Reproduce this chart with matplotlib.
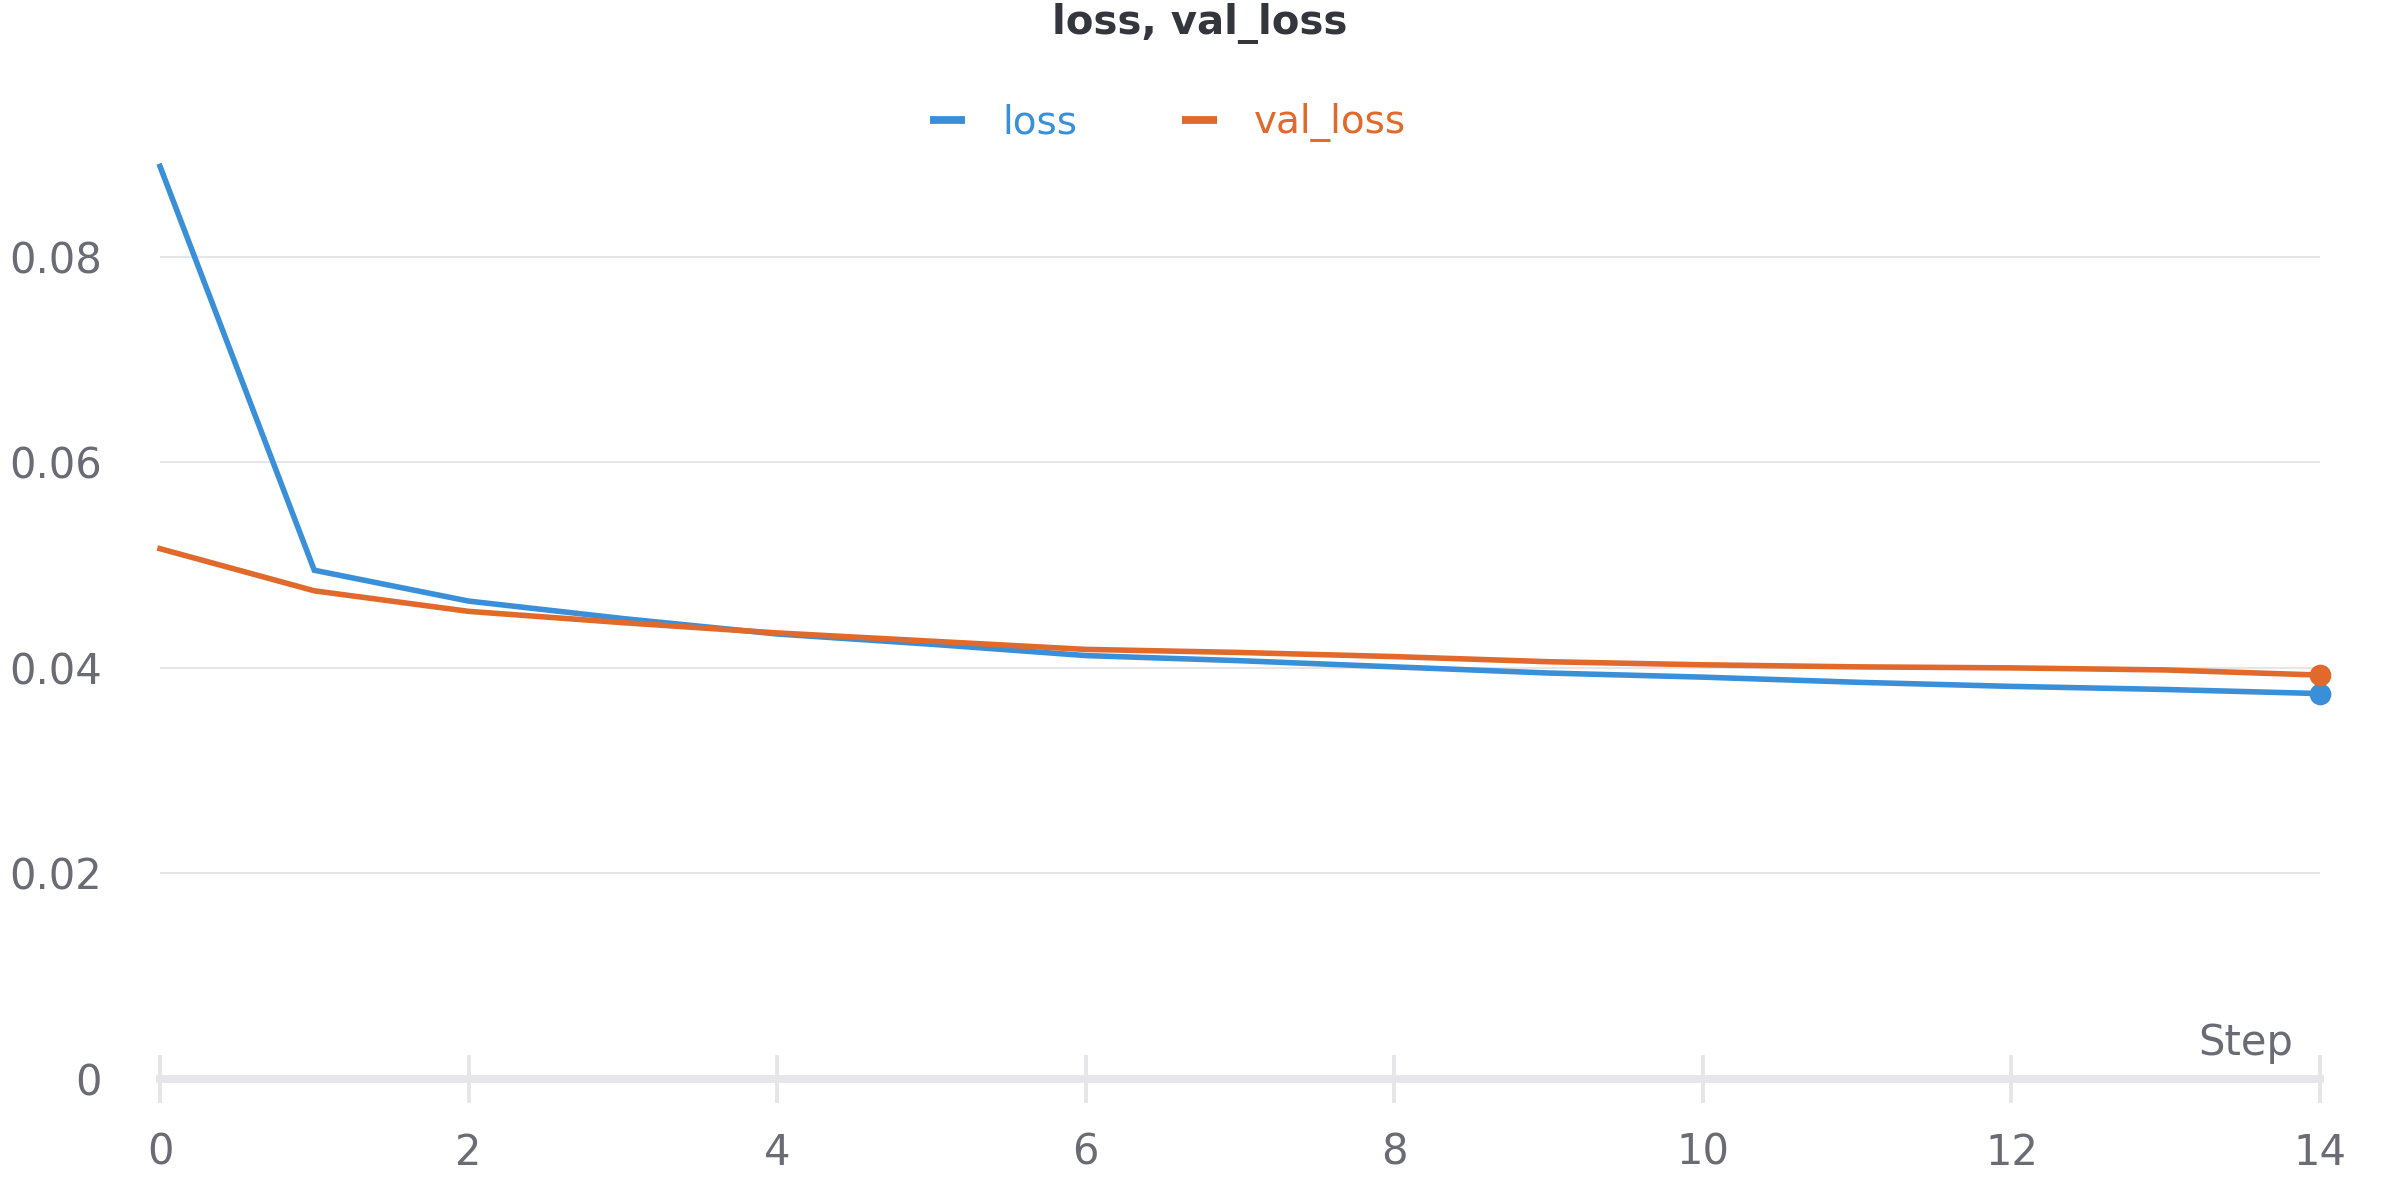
import matplotlib
matplotlib.use("Agg")
import matplotlib.pyplot as plt
from matplotlib.lines import Line2D

# ── data ──
STEPS = list(range(15))
LOSS = [0.0888, 0.0495, 0.0465, 0.0448, 0.0433, 0.0423, 0.0412, 0.0407,
        0.0401, 0.0395, 0.0391, 0.0386, 0.0382, 0.0379, 0.0375]
VAL_LOSS = [0.0516, 0.0475, 0.0455, 0.0444, 0.0434, 0.0426, 0.0418, 0.0415,
            0.0411, 0.0406, 0.0403, 0.0401, 0.0400, 0.0398, 0.0393]
X_TICKS = [0, 2, 4, 6, 8, 10, 12, 14]
Y_TICKS = [0, 0.02, 0.04, 0.06, 0.08]
Y_TICK_LABELS = ["0", "0.02", "0.04", "0.06", "0.08"]

BLUE = "#3a8fd9"
ORANGE = "#e0692b"
GRAY_TEXT = "#6b6b76"
GRID = "#e6e6e9"

plt.rcParams["font.family"] = ["DejaVu Sans"]

fig = plt.figure(figsize=(12, 6), dpi=200)
ax = fig.add_axes([160 / 2400, 1 - 1079 / 1200, 2160 / 2400, 925 / 1200])

ax.plot(STEPS, LOSS, color=BLUE, lw=2.0, solid_joinstyle="miter", zorder=3, clip_on=False)
ax.plot(STEPS, VAL_LOSS, color=ORANGE, lw=2.0, solid_joinstyle="miter", zorder=3, clip_on=False)
# end markers
ax.plot(STEPS[-1], LOSS[-1], "o", color=BLUE, ms=6.8, clip_on=False, zorder=4)
ax.plot(STEPS[-1], VAL_LOSS[-1], "o", color=ORANGE, ms=6.8, clip_on=False, zorder=4)

ax.set_xlim(0, 14)
ax.set_ylim(0, 0.09)

for s in ax.spines.values():
    s.set_visible(False)

# x axis line at zero
ax.axhline(0, color=GRID, lw=2.8, zorder=1, clip_on=False)
for y in Y_TICKS[1:]:
    ax.axhline(y, color=GRID, lw=0.7, zorder=1)

ax.set_xticks(X_TICKS)
ax.set_xticklabels([str(t) for t in X_TICKS])
ax.set_yticks(Y_TICKS)
ax.set_yticklabels(Y_TICK_LABELS)
ax.tick_params(axis="x", direction="inout", length=17, width=1.4, color=GRID,
               pad=10.5, labelsize=15, labelcolor=GRAY_TEXT)
ax.tick_params(axis="y", length=0, pad=21, labelsize=15, labelcolor=GRAY_TEXT)

fig.text(2293 / 2400, 1 - 1055 / 1200, "Step", ha="right", va="baseline",
         fontsize=15, color=GRAY_TEXT)

fig.text(0.5, 1 - 24 / 1200, "loss, val_loss", ha="center", va="center",
         fontsize=14.5, fontweight="bold", color="#33373d")

handles = [Line2D([], [], color=BLUE, lw=2.8, solid_capstyle="butt"),
           Line2D([], [], color=ORANGE, lw=2.8, solid_capstyle="butt")]
fig.legend(handles, ["loss", "val_loss"], loc="center",
           bbox_to_anchor=(1168 / 2400, 1 - 123 / 1200), ncol=2, frameon=False,
           fontsize=14, handlelength=0.9, handletextpad=0.95, columnspacing=2.7,
           labelcolor=[BLUE, ORANGE])

fig.savefig("out.png", dpi=200, facecolor="white")
